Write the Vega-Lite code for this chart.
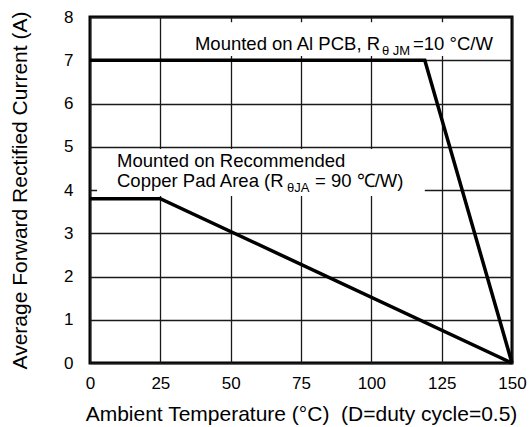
{
  "$schema": "https://vega.github.io/schema/vega-lite/v6.json",
  "width": 422,
  "height": 346,
  "autosize": {"type": "none"},
  "padding": {"left": 90, "top": 17, "right": 18, "bottom": 64},
  "background": "white",
  "config": {
    "view": {"stroke": "black", "strokeWidth": 3},
    "font": "Liberation Sans",
    "axis": {
      "grid": true, "gridColor": "#1a1a1a", "gridWidth": 1.3, "gridOpacity": 1,
      "domain": false, "ticks": false, "labelFlush": false,
      "labelFont": "Liberation Sans", "labelFontSize": 17, "labelColor": "black",
      "titleFont": "Liberation Sans", "titleFontSize": 21, "titleFontWeight": "normal", "titleColor": "black"
    },
    "axisX": {"labelPadding": 12, "titlePadding": 12},
    "axisY": {"labelPadding": 17, "titlePadding": 33}
  },
  "datasets": {
    "curves": [
      {"series": "Al PCB", "temp": 0, "current": 7},
      {"series": "Al PCB", "temp": 119, "current": 7},
      {"series": "Al PCB", "temp": 150, "current": 0},
      {"series": "Copper Pad", "temp": 0, "current": 3.8},
      {"series": "Copper Pad", "temp": 25, "current": 3.8},
      {"series": "Copper Pad", "temp": 150, "current": 0}
    ],
    "boxes": [
      {"temp": 35, "temp2": 146, "current": 7.1, "current2": 7.88},
      {"temp": 2.5, "temp2": 119, "current": 3.86, "current2": 4.95}
    ],
    "labels": [
      {"part": "mainR", "temp": 103.1, "current": 7.24, "text": "Mounted on Al PCB, R"},
      {"part": "sub", "temp": 103.8, "current": 7.24, "text": "θ JM"},
      {"part": "main", "temp": 114.8, "current": 7.24, "text": "=10 °C/W"},
      {"part": "main", "temp": 9.6, "current": 4.525, "text": "Mounted on Recommended"},
      {"part": "main", "temp": 9.6, "current": 4.077, "text": "Copper Pad Area (R"},
      {"part": "sub", "temp": 70.0, "current": 4.077, "text": "θJA"},
      {"part": "main", "temp": 80.0, "current": 4.077, "text": "= 90 ℃/W)"}
    ]
  },
  "layer": [
    {
      "data": {"name": "boxes"},
      "mark": {"type": "rect", "fill": "white", "stroke": null},
      "encoding": {
        "x": {"field": "temp", "type": "quantitative", "scale": {"domain": [0, 150], "nice": false}},
        "x2": {"field": "temp2"},
        "y": {"field": "current", "type": "quantitative", "scale": {"domain": [0, 8], "nice": false}},
        "y2": {"field": "current2"}
      }
    },
    {
      "data": {"name": "curves"},
      "mark": {"type": "line", "color": "black", "strokeWidth": 3.5, "strokeJoin": "miter"},
      "encoding": {
        "x": {"field": "temp", "type": "quantitative",
              "axis": {"title": "Ambient Temperature (°C)\u00a0 (D=duty cycle=0.5)", "values": [0, 25, 50, 75, 100, 125, 150]}},
        "y": {"field": "current", "type": "quantitative",
              "axis": {"title": "Average Forward Rectified Current (A)", "values": [0, 1, 2, 3, 4, 5, 6, 7, 8]}},
        "detail": {"field": "series", "type": "nominal"}
      }
    },
    {
      "data": {"name": "labels"},
      "transform": [{"filter": "datum.part === 'main'"}],
      "mark": {"type": "text", "align": "left", "baseline": "alphabetic", "fontSize": 18.5, "color": "black"},
      "encoding": {
        "x": {"field": "temp", "type": "quantitative"},
        "y": {"field": "current", "type": "quantitative"},
        "text": {"field": "text"}
      }
    },
    {
      "data": {"name": "labels"},
      "transform": [{"filter": "datum.part === 'mainR'"}],
      "mark": {"type": "text", "align": "right", "baseline": "alphabetic", "fontSize": 18.5, "color": "black"},
      "encoding": {
        "x": {"field": "temp", "type": "quantitative"},
        "y": {"field": "current", "type": "quantitative"},
        "text": {"field": "text"}
      }
    },
    {
      "data": {"name": "labels"},
      "transform": [{"filter": "datum.part === 'sub'"}],
      "mark": {"type": "text", "align": "left", "baseline": "alphabetic", "fontSize": 13, "dy": 5, "color": "black"},
      "encoding": {
        "x": {"field": "temp", "type": "quantitative"},
        "y": {"field": "current", "type": "quantitative"},
        "text": {"field": "text"}
      }
    }
  ]
}
